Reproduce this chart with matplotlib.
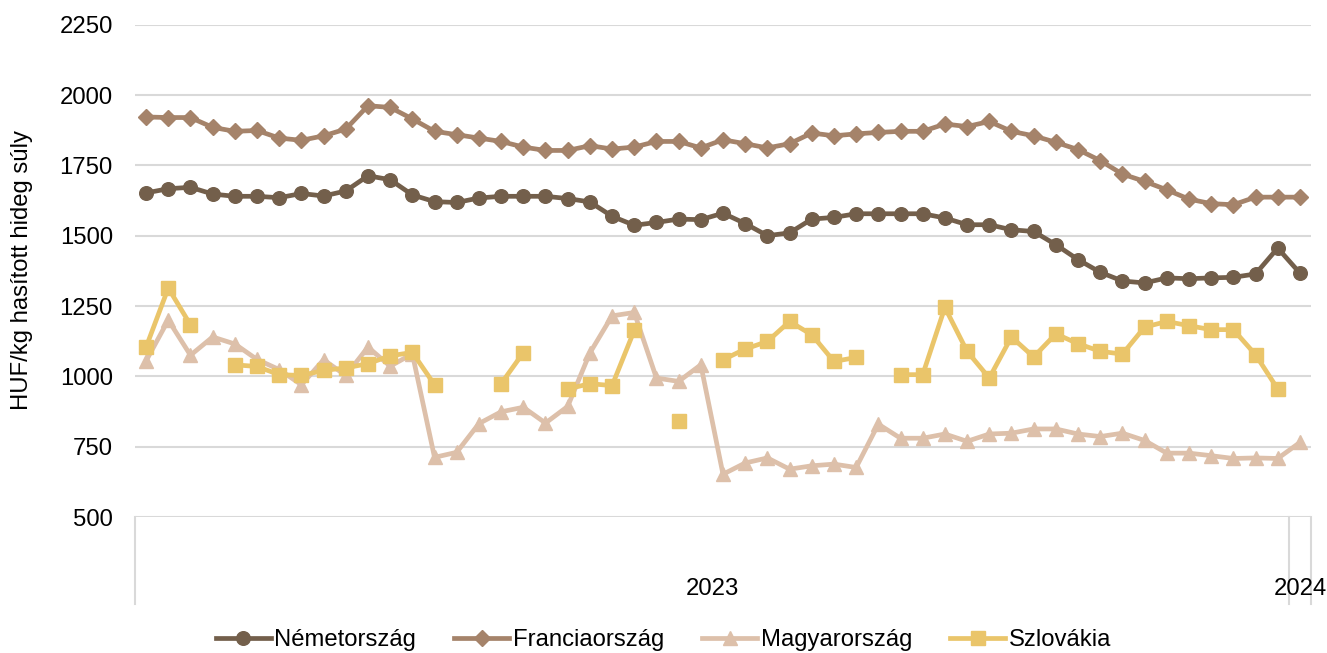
import numpy as np
import matplotlib
matplotlib.use("Agg")
import matplotlib.pyplot as plt
from matplotlib.lines import Line2D

nan = np.nan

# Categories: weeks of 2023 (1..52) and first week of 2024
years = ["2023"] * 52 + ["2024"]
weeks = list(range(1, 53)) + [1]
year_groups = ["2023", "2024"]

nemetorszag = [1652, 1667, 1672, 1648, 1640, 1640, 1635, 1650, 1641, 1659,
               1713, 1699, 1645, 1621, 1618, 1634, 1640, 1640, 1640, 1632,
               1620, 1569, 1537, 1547, 1559, 1557, 1580, 1543, 1500, 1510,
               1559, 1565, 1578, 1578, 1578, 1578, 1563, 1539, 1539, 1521,
               1515, 1468, 1415, 1370, 1339, 1332, 1350, 1347, 1350, 1352,
               1364, 1456, 1367]

franciaorszag = [1922, 1920, 1920, 1885, 1871, 1874, 1847, 1839, 1855, 1879,
                 1962, 1956, 1915, 1871, 1859, 1847, 1835, 1815, 1803, 1803,
                 1820, 1808, 1815, 1835, 1835, 1812, 1841, 1827, 1812, 1827,
                 1865, 1855, 1862, 1867, 1871, 1871, 1897, 1888, 1906, 1871,
                 1855, 1832, 1806, 1767, 1719, 1693, 1663, 1630, 1614, 1610,
                 1637, 1637, 1637]

magyarorszag = [1055, 1200, 1075, 1140, 1115, 1060, 1024, 970, 1059, 1003,
                1104, 1036, 1080, 712, 730, 832, 874, 890, 834, 893,
                1083, 1215, 1227, 994, 982, 1041, 652, 692, 710, 670,
                682, 688, 676, 830, 780, 780, 795, 769, 795, 798,
                813, 813, 795, 786, 798, 772, 727, 727, 718, 708,
                710, 708, 765]

szlovakia = [1104, 1314, 1183, nan, 1041, 1035, 1006, 1003, 1021, 1030,
             1045, 1073, 1085, 970, nan, nan, 974, 1084, nan, 955,
             974, 967, 1163, nan, 843, nan, 1059, 1097, 1124, 1195,
             1148, 1053, 1067, nan, 1006, 1006, 1245, 1089, 994, 1140,
             1069, 1151, 1116, 1089, 1079, 1175, 1195, 1180, 1166, 1166,
             1077, 955, nan]

series_names = ["Németország", "Franciaország", "Magyarország", "Szlovákia"]
series_values = [nemetorszag, franciaorszag, magyarorszag, szlovakia]
colors = ["#735F4B", "#A5836A", "#DDC0AA", "#EAC56A"]
markers = ["o", "D", "^", "s"]
msizes = [9.8, 7.7, 10.5, 9.8]

plt.rcParams['font.family'] = ['Liberation Sans', 'DejaVu Sans']
FS = 17.2

fig = plt.figure(figsize=(13.27, 6.53), dpi=100)
W, H = 1327, 653
left, right = 135 / W, 1311 / W
top_px, bot_px = 24.7, 517
ax = fig.add_axes([left, 1 - bot_px / H, right - left, (bot_px - top_px) / H])

x = np.arange(len(years))
for name, vals, c, m, ms in zip(series_names, series_values, colors, markers, msizes):
    ax.plot(x, vals, color=c, lw=3.4, marker=m, markersize=ms,
            markeredgecolor=c, label=name, zorder=3, solid_capstyle='round')

ax.set_xlim(-0.5, len(years) - 0.5)
ax.set_ylim(500, 2250)
ax.set_yticks(np.arange(500, 2251, 250))
ax.yaxis.grid(True, color="#D9D9D9", lw=1.5)
ax.set_axisbelow(True)
for s in ax.spines.values():
    s.set_visible(False)
ax.tick_params(axis='y', length=0, pad=16, labelsize=FS, labelcolor="#000000")
ax.set_xticks([])

# Multi-level category axis below the plot
ydrop = -(604 - bot_px) / (bot_px - top_px)
trans = ax.get_xaxis_transform()
bounds = [-0.5]
start = 0
for g in year_groups:
    n = years.count(g)
    center = start + (n - 1) / 2
    ax.text(center, -(589 - bot_px) / (bot_px - top_px), g, transform=trans,
            ha='center', va='center', fontsize=FS, color="#000000")
    start += n
    bounds.append(start - 0.5)
for b in bounds:
    ax.plot([b, b], [0, ydrop], transform=trans, color="#D9D9D9", lw=1.5,
            clip_on=False, zorder=1)

fig.text(22 / W, 1 - 270 / H, "HUF/kg hasított hideg súly", rotation=90,
         ha='center', va='center', fontsize=FS, color="#000000")

handles = [Line2D([], [], color=c, lw=3.4, marker=m, markersize=ms, markeredgecolor=c)
           for c, m, ms in zip(colors, markers, msizes)]
fig.legend(handles, series_names, loc='center', bbox_to_anchor=(0.5, 1 - 640 / H),
           ncol=4, frameon=False, fontsize=FS, handlelength=2.3, handletextpad=0.15,
           columnspacing=1.6, borderpad=0)

fig.savefig("out.png", dpi=100)
